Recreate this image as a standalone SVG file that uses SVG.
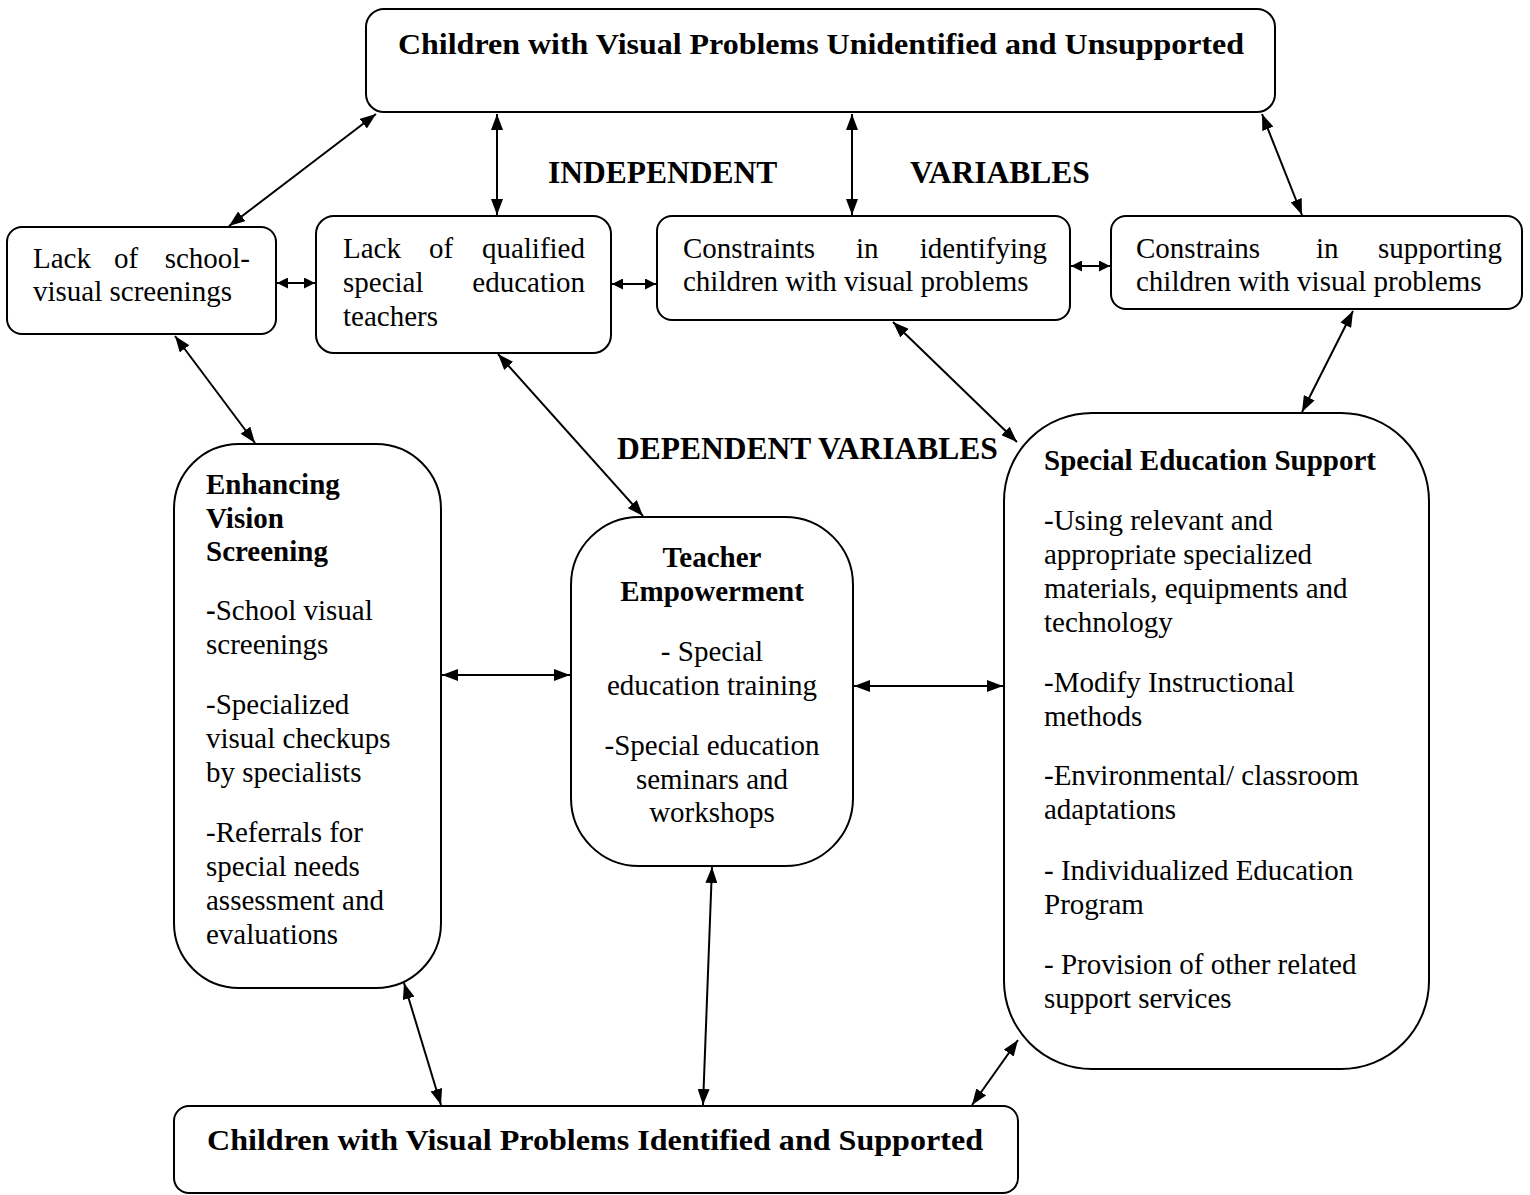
<svg xmlns="http://www.w3.org/2000/svg" width="1530" height="1195" viewBox="0 0 1530 1195">
<defs>
<style>
.box{fill:#fff;stroke:#000;stroke-width:2}
.t{font-family:"Liberation Serif","Times New Roman",serif;font-size:29px;fill:#000}
.b{font-family:"Liberation Serif","Times New Roman",serif;font-size:29px;font-weight:bold;fill:#000}
.h{font-family:"Liberation Serif","Times New Roman",serif;font-size:31.5px;font-weight:bold;fill:#000}
.c{stroke:#000;stroke-width:2;fill:none;marker-start:url(#ah);marker-end:url(#ah)}
.s{stroke:#000;stroke-width:2;fill:none;marker-start:url(#as);marker-end:url(#as)}
</style>
<marker id="ah" viewBox="0 0 16 12" refX="16" refY="6" markerWidth="16" markerHeight="12" markerUnits="userSpaceOnUse" orient="auto-start-reverse"><path d="M0,0 L16,6 L0,12 z" fill="#000"/></marker>
<marker id="as" viewBox="0 0 11 11" refX="11" refY="5.5" markerWidth="11" markerHeight="11" markerUnits="userSpaceOnUse" orient="auto-start-reverse"><path d="M0,0 L11,5.5 L0,11 z" fill="#000"/></marker>
</defs>
<rect width="1530" height="1195" fill="#fff"/>

<g id="top">
<rect class="box" x="366" y="9" width="909" height="103" rx="18"/>
<text class="b" x="398" y="54" font-size="30" textLength="846" lengthAdjust="spacingAndGlyphs">Children with Visual Problems Unidentified and Unsupported</text>
</g>

<g id="labels">
<text class="h" x="548" y="183">INDEPENDENT</text>
<text class="h" x="910" y="183">VARIABLES</text>
<text class="h" x="617" y="459">DEPENDENT VARIABLES</text>
</g>

<g id="lack-screening">
<rect class="box" x="7" y="227" width="269" height="107" rx="15"/>
<text class="t" x="33" y="268">Lack</text>
<text class="t" x="114" y="268">of</text>
<text class="t" x="250" y="268" text-anchor="end">school-</text>
<text class="t" x="33" y="301">visual screenings</text>
</g>

<g id="lack-teachers">
<rect class="box" x="316" y="216" width="295" height="137" rx="18"/>
<text class="t" x="343" y="258">Lack</text>
<text class="t" x="429" y="258">of</text>
<text class="t" x="585" y="258" text-anchor="end">qualified</text>
<text class="t" x="343" y="292">special</text>
<text class="t" x="585" y="292" text-anchor="end">education</text>
<text class="t" x="343" y="326">teachers</text>
</g>

<g id="constraints-identifying">
<rect class="box" x="657" y="216" width="413" height="104" rx="15"/>
<text class="t" x="683" y="258">Constraints</text>
<text class="t" x="856" y="258">in</text>
<text class="t" x="1047" y="258" text-anchor="end">identifying</text>
<text class="t" x="683" y="291">children with visual problems</text>
</g>

<g id="constraints-supporting">
<rect class="box" x="1111" y="216" width="411" height="93" rx="15"/>
<text class="t" x="1136" y="258">Constrains</text>
<text class="t" x="1316" y="258">in</text>
<text class="t" x="1502" y="258" text-anchor="end">supporting</text>
<text class="t" x="1136" y="291">children with visual problems</text>
</g>

<g id="enhancing">
<rect class="box" x="174" y="444" width="267" height="544" rx="65"/>
<text class="b" x="206" y="494">Enhancing</text>
<text class="b" x="206" y="528">Vision</text>
<text class="b" x="206" y="561">Screening</text>
<text class="t" x="206" y="620"><tspan font-weight="bold">-</tspan>School visual</text>
<text class="t" x="206" y="654">screenings</text>
<text class="t" x="206" y="714">-Specialized</text>
<text class="t" x="206" y="748">visual checkups</text>
<text class="t" x="206" y="782">by specialists</text>
<text class="t" x="206" y="842">-Referrals for</text>
<text class="t" x="206" y="876">special needs</text>
<text class="t" x="206" y="910">assessment and</text>
<text class="t" x="206" y="944">evaluations</text>
</g>

<g id="teacher">
<rect class="box" x="571" y="517" width="282" height="349" rx="68"/>
<g text-anchor="middle">
<text class="b" x="712" y="567">Teacher</text>
<text class="b" x="712" y="601">Empowerment</text>
<text class="t" x="712" y="661">- Special</text>
<text class="t" x="712" y="695">education training</text>
<text class="t" x="712" y="755">-Special education</text>
<text class="t" x="712" y="789">seminars and</text>
<text class="t" x="712" y="822">workshops</text>
</g>
</g>

<g id="support">
<rect class="box" x="1004" y="413" width="425" height="656" rx="88"/>
<text class="b" x="1044" y="470">Special Education Support</text>
<text class="t" x="1044" y="530">-Using relevant and</text>
<text class="t" x="1044" y="564">appropriate specialized</text>
<text class="t" x="1044" y="598">materials, equipments and</text>
<text class="t" x="1044" y="632">technology</text>
<text class="t" x="1044" y="692">-Modify Instructional</text>
<text class="t" x="1044" y="726">methods</text>
<text class="t" x="1044" y="785">-Environmental/ classroom</text>
<text class="t" x="1044" y="819">adaptations</text>
<text class="t" x="1044" y="880">- Individualized Education</text>
<text class="t" x="1044" y="914">Program</text>
<text class="t" x="1044" y="974">- Provision of other related</text>
<text class="t" x="1044" y="1008">support services</text>
</g>

<g id="bottom">
<rect class="box" x="174" y="1106" width="844" height="87" rx="15"/>
<text class="b" x="207" y="1150" font-size="30" textLength="776" lengthAdjust="spacingAndGlyphs">Children with Visual Problems Identified and Supported</text>
</g>

<g id="connectors">
<line class="c" x1="376" y1="114" x2="229" y2="226"/>
<line class="c" x1="497" y1="114" x2="497" y2="215"/>
<line class="c" x1="852" y1="114" x2="852" y2="215"/>
<line class="c" x1="1262" y1="114" x2="1302" y2="215"/>
<line class="s" x1="277" y1="283" x2="315" y2="283"/>
<line class="s" x1="612" y1="284" x2="656" y2="284"/>
<line class="s" x1="1071" y1="266" x2="1110" y2="266"/>
<line class="c" x1="175" y1="336" x2="255" y2="443"/>
<line class="c" x1="498" y1="354" x2="643" y2="516"/>
<line class="c" x1="893" y1="322" x2="1017" y2="442"/>
<line class="c" x1="1353" y1="311" x2="1302" y2="412"/>
<line class="c" x1="442" y1="675" x2="570" y2="675"/>
<line class="c" x1="854" y1="686" x2="1003" y2="686"/>
<line class="c" x1="404" y1="983" x2="441" y2="1105"/>
<line class="c" x1="712" y1="867" x2="703" y2="1105"/>
<line class="c" x1="1018" y1="1040" x2="972" y2="1105"/>
</g>
</svg>
